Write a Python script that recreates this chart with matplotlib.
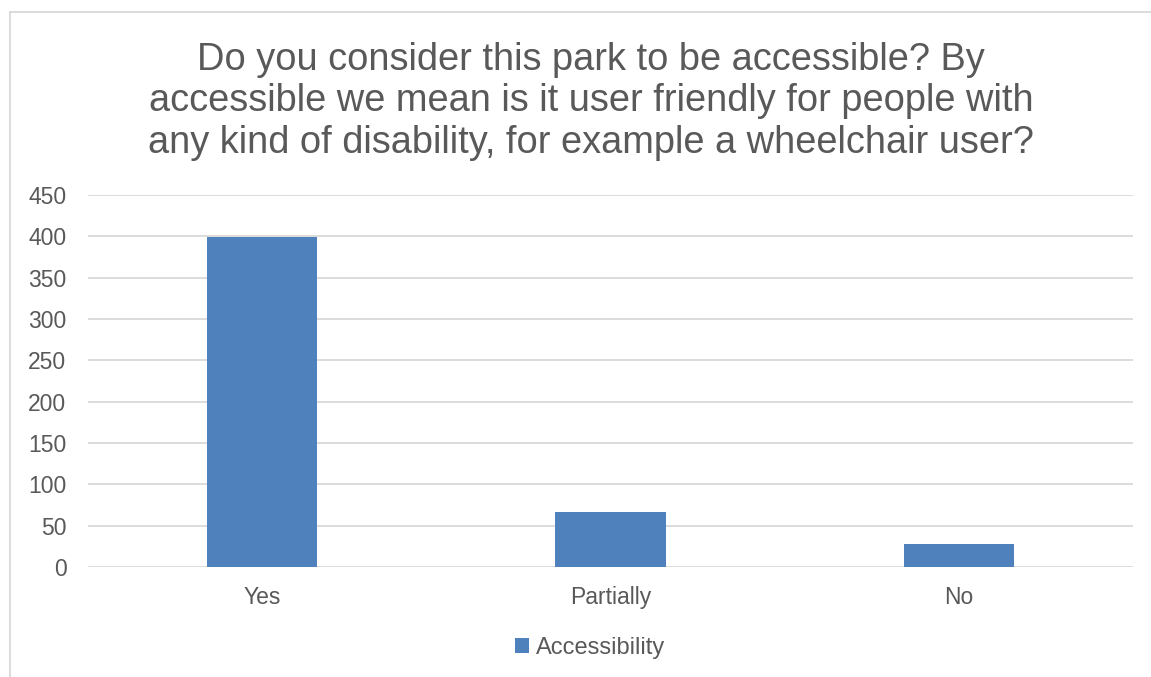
import matplotlib.pyplot as plt
from matplotlib.lines import Line2D

categories = ["Yes", "Partially", "No"]
counts = [399, 67, 28]
series_name = "Accessibility"
title = ("Do you consider this park to be accessible? By\n"
         "accessible we mean is it user friendly for people with\n"
         "any kind of disability, for example a wheelchair user?")

plt.rcParams['font.family'] = ['Liberation Sans', 'DejaVu Sans']
text_color = '#595959'
grid_color = '#D9D9D9'
bar_color = '#4F81BD'

fig = plt.figure(figsize=(11.51, 6.77), dpi=100)
ax = fig.add_axes([88 / 1151, 1 - 567 / 677, (1133 - 88) / 1151, (567 - 195) / 677])

x = range(len(categories))
ax.bar(x, counts, width=0.316, color=bar_color, label=series_name, zorder=3)

ax.set_xlim(-0.5, len(categories) - 0.5)
ax.set_ylim(0, 450)
ax.set_yticks(range(0, 451, 50))
ax.set_xticks(list(x))
ax.set_xticklabels(categories)
ax.tick_params(axis='both', length=0, labelsize=16.5, labelcolor=text_color)
ax.tick_params(axis='y', pad=15.5)
ax.tick_params(axis='x', pad=14)
ax.grid(axis='y', color=grid_color, linewidth=1.3, zorder=0)
for s in ax.spines.values():
    s.set_visible(False)

# baseline of the last title line
fig.text(591 / 1151, 1 - 153 / 677, title, ha='center', va='baseline',
         fontsize=27.4, color=text_color, linespacing=1.2)

fig.legend(loc='center', bbox_to_anchor=(590 / 1151, 1 - 648 / 677), frameon=False,
           fontsize=17, labelcolor=text_color, handlelength=0.6, handleheight=0.6,
           handletextpad=0.3)

# chart area border (only top and left visible in the crop)
fig.add_artist(Line2D([10 / 1151, 10 / 1151], [0, 1 - 12 / 677], color=grid_color,
                      linewidth=1.3, transform=fig.transFigure))
fig.add_artist(Line2D([10 / 1151, 1], [1 - 12 / 677, 1 - 12 / 677], color=grid_color,
                      linewidth=1.3, transform=fig.transFigure))

fig.savefig('out.png', dpi=100)
